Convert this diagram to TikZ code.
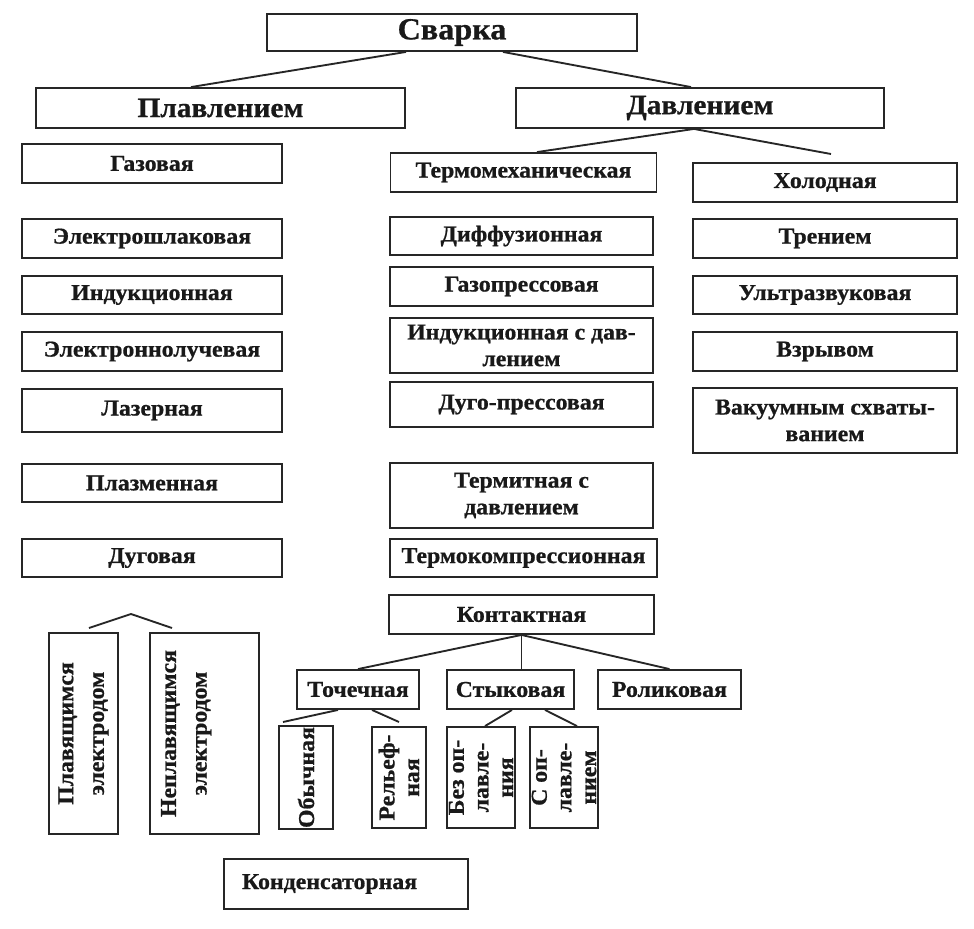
\documentclass[tikz,border=0pt]{standalone}
\usepackage{fontspec}
\setmainfont{Liberation Serif}[FakeStretch=1.05, BoldFeatures={FakeBold=0.8}]
\usetikzlibrary{calc}

\begin{document}
\begin{tikzpicture}[
  x=0.75pt, y=-0.75pt,
  dims/.style 2 args={minimum width=#1*0.75pt, minimum height=#2*0.75pt},
  box/.style={rectangle, draw=black!85, line width=1.4pt, inner sep=1pt,
    align=center, text=black!90, font=\fontsize{17}{20}\selectfont\bfseries},
  vbox/.style={box, rotate=90, font=\fontsize{17}{18.5}\selectfont\bfseries},
  conn/.style={line width=1.4pt, black!85}
]
  \useasboundingbox (0,0) rectangle (974,928);

  % Root and the two main kinds
  \node[box, dims={370}{37}, font=\fontsize{23}{24}\selectfont\bfseries] (svarka) at (452,32.5) {Сварка};
  \node[box, dims={369}{40}, font=\fontsize{21}{22}\selectfont\bfseries] (plav) at (220.5,108) {Плавлением};
  \node[box, dims={368}{40}, font=\fontsize{21}{22}\selectfont\bfseries] (davl) at (700,108) {Давлением};

  % Fusion column
  \node[box, dims={260}{39}] (gaz)  at (152,163.5) {Газовая};
  \node[box, dims={260}{39}] (eshl) at (152,238.5) {Электрошлаковая};
  \node[box, dims={260}{38}] (ind)  at (152,295)   {Индукционная};
  \node[box, dims={260}{39}] (elu)  at (152,351.5) {Электроннолучевая};
  \node[box, dims={260}{43}] (laz)  at (152,410.5) {Лазерная};
  \node[box, dims={260}{38}] (plaz) at (152,483)   {Плазменная};
  \node[box, dims={260}{38}] (dug)  at (152,558)   {Дуговая};

  % Arc welding electrodes
  \node[vbox, dims={201}{69}, font=\fontsize{17}{23}\selectfont\bfseries] (plavel) at (83.5,733.5) {Плавящимся\\электродом};
  \node[vbox, dims={201}{109}, font=\fontsize{17}{23}\selectfont\bfseries] (neplavel) at (204.5,733.5) {Неплавящимся\\электродом\\[8pt]\mbox{}};

  % Pressure, middle column
  \node[box, dims={266}{39}] (termomeh) at (523.5,172.5) {Термомеханическая};
  \node[box, dims={263}{38}] (diff)     at (521.5,236)   {Диффузионная};
  \node[box, dims={263}{39}] (gazopr)   at (521.5,286.5) {Газопрессовая};
  \node[box, dims={263}{55}] (indd)     at (521.5,345.5) {Индукционная с дав-\\лением};
  \node[box, dims={263}{45}] (dugopr)   at (521.5,404.5) {Дуго-прессовая};
  \node[box, dims={263}{65}] (termit)   at (521.5,495.5) {Термитная с\\давлением};
  \node[box, dims={267}{38}] (termokom) at (523.5,558)   {Термокомпрессионная};
  \node[box, dims={265}{39}] (kontakt)  at (521.5,614.5) {Контактная};

  % Pressure, right column
  \node[box, dims={264}{39}] (hol)    at (825,182.5) {Холодная};
  \node[box, dims={264}{39}] (tren)   at (825,238.5) {Трением};
  \node[box, dims={264}{38}] (ultra)  at (825,295)   {Ультразвуковая};
  \node[box, dims={264}{39}] (vzryv)  at (825,351.5) {Взрывом};
  \node[box, dims={264}{65}] (vakuum) at (825,420.5) {Вакуумным схваты-\\ванием};

  % Resistance welding
  \node[box, dims={122}{39}] (tochech) at (358,689.5)   {Точечная};
  \node[box, dims={127}{39}] (styk)    at (510.5,689.5) {Стыковая};
  \node[box, dims={143}{39}] (rolik)   at (669.5,689.5) {Роликовая};
  \node[vbox, dims={101}{54}] (obych)  at (306,777.5) {Обычная};
  \node[vbox, dims={101}{54}] (relef)  at (399,777.5) {Рельеф-\\ная};
  \node[vbox, dims={101}{68}] (bezopl) at (481,777.5) {Без оп-\\лавле-\\ния};
  \node[vbox, dims={101}{68}] (sopl)   at (564,777.5) {С оп-\\лавле-\\нием};
  \node[box, dims={244}{50}, align=left, text width=156pt, inner xsep=13.5pt] (kondens) at (346,884) {Конденсаторная};

  % Free ends
  \coordinate (holend)   at (831,154);
  \coordinate (roof)     at (131,614);
  \coordinate (roofL)    at (89,628);
  \coordinate (roofR)    at (172,628);
  \coordinate (obychend) at (283,722);
  \coordinate (relefend) at (399,722);

  % Connections
  \draw[conn] ($(svarka.south)+(-46,0)$) -- ($(plav.north)+(-29.5,0)$);
  \draw[conn] ($(svarka.south)+(51,0)$) -- ($(davl.north)+(-9,0)$);
  \draw[conn] ($(davl.south)+(-6,0)$) -- ($(termomeh.north)+(13.5,0)$);
  \draw[conn] ($(davl.south)+(-6,0)$) -- (holend);
  \draw[conn] (roofL) -- (roof) -- (roofR);
  \foreach \c in {tochech, rolik} {
    \draw[conn] (kontakt.south) -- (\c.north);
  }
  \draw[conn] (kontakt.south) -- (kontakt.south |- styk.north);
  \draw[conn] ($(tochech.south)+(-20,0)$) -- (obychend);
  \draw[conn] ($(tochech.south)+(14,0)$) -- (relefend);
  \draw[conn] ($(tochech.south)+(-5,0)$) -- ($(tochech.south)+(-5,0)$ |- kondens.north);
  \draw[conn] ($(styk.south)+(1.5,0)$) -- ($(bezopl.east)+(4,0)$);
  \draw[conn] ($(styk.south)+(34.5,0)$) -- ($(sopl.east)+(13,0)$);
\end{tikzpicture}
\end{document}
